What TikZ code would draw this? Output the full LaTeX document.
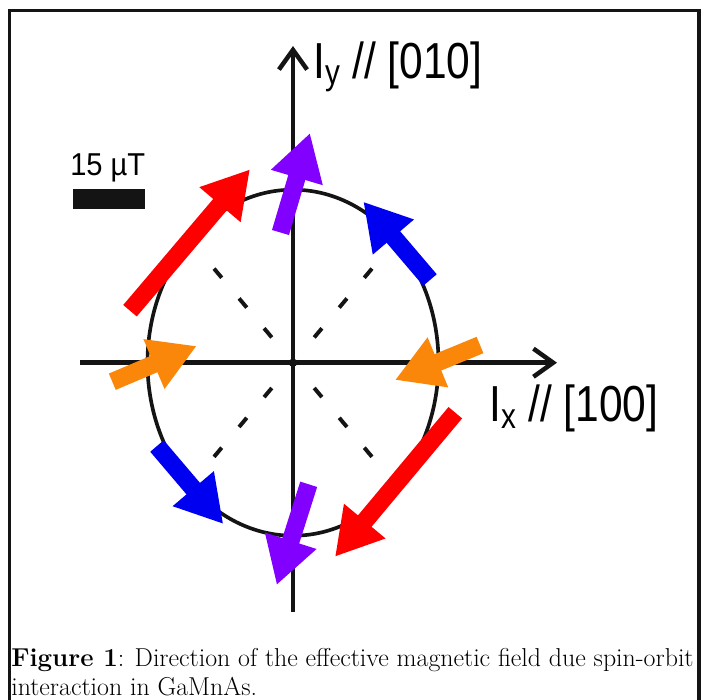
\documentclass[tikz,border=0pt]{standalone}
\usepackage{fontspec}
\newfontfamily\axisfont{Liberation Sans}
\usetikzlibrary{arrows.meta}
\definecolor{fRed}{RGB}{255, 0, 0}
\definecolor{fPurple}{RGB}{130, 0, 255}
\definecolor{fBlue}{RGB}{0, 0, 240}
\definecolor{fOrange}{RGB}{250, 135, 10}
\definecolor{fInk}{RGB}{20, 20, 20}
\tikzset{
  axisline/.style={line width=3.2pt, fInk, -{Straight Barb[length=14pt, width=20pt]}},
  loopline/.style={line width=2.6pt, fInk},
  diagline/.style={line width=2.8pt, fInk, dash pattern=on 8.5pt off 19.2pt},
  fieldarrow/.style={line width=12.6pt, draw=#1, -{Triangle[length=33pt, width=36pt]}},
  fieldarrow/.default=fRed,
  axislabel/.style={inner sep=0pt, font=\axisfont\fontsize{36}{40}\selectfont},
  barlabel/.style={inner sep=0pt, font=\axisfont\fontsize{22.5}{26}\selectfont},
  caption/.style={inner sep=0pt, font=\fontsize{18.4}{22}\selectfont},
  frameline/.style={line width=2.2pt, fInk},
}

\begin{document}
\begin{tikzpicture}[x=0.025cm, y=-0.025cm]
  \useasboundingbox (0,0) rectangle (704,699);
  \draw[frameline] (9.5,702) -- (9.5,10.5) -- (699,10.5) -- (699,702);

  % axes and the loop
  \coordinate (O) at (293,362.7);
  \coordinate (xs) at (80,362.7);
  \coordinate (xe) at (557,362.7);
  \coordinate (ys) at (293,612);
  \coordinate (ye) at (293,46);
  \draw[loopline] (O) ellipse [x radius=145.5, y radius=173];
  \foreach \a in {50,130,230,310} {
    \draw[diagline] (O) ++(\a:33) -- ++(\a:92);
  }
  \draw[axisline] (xs) -- (xe);
  \draw[axisline] (ys) -- (ye);
  \fill[fInk] (O) circle (3pt);

  \node[axislabel, anchor=base west] (ylab) at (313,78) {\scalebox{0.84}[1]{I\textsubscript{y} // [010]}};
  \node[axislabel, anchor=base west] (xlab) at (489,421.7) {\scalebox{0.84}[1]{I\textsubscript{x} // [100]}};

  % scale bar
  \node[barlabel, anchor=base west] (barlab) at (70,175) {\scalebox{0.92}[1]{15 µT}};
  \fill[fInk] (72.7,189.3) rectangle (145,209.3);

  % field vectors
  \foreach \n/\c/\tx/\ty/\hx/\hy in {
      ul/fRed/130/310.7/250/169.3,
      up/fPurple/280.5/232.5/310/133,
      ur/fBlue/430/280/363.3/201.7,
      rt/fOrange/480/345/395/380,
      lt/fOrange/112.3/381.7/196.7/346,
      ll/fBlue/157/446/223.3/524,
      dn/fPurple/308.7/484.3/276.7/585,
      lr/fRed/455.3/412.7/335/556.7} {
    \coordinate (\n-t) at (\tx,\ty);
    \coordinate (\n-h) at (\hx,\hy);
    \draw[fieldarrow=\c] (\n-t) -- (\n-h);
  }

  \node[caption, anchor=base west] (cap1) at (11,666) {\textbf{Figure 1}: Direction of the effective magnetic field due spin-orbit};
  \node[caption, anchor=base west] (cap2) at (11,695) {interaction in GaMnAs.};
\end{tikzpicture}
\end{document}
